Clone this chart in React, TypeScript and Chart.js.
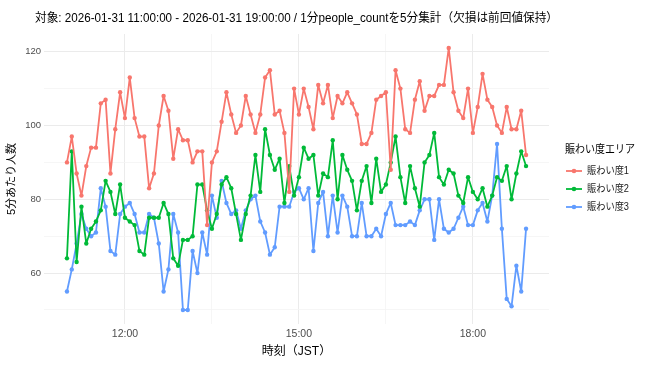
import React, { useEffect, useRef } from "react";
import { Chart, registerables } from "chart.js";

Chart.register(...registerables);

const FONT = "'Liberation Sans', 'Noto Sans CJK JP', sans-serif";

const titleText =
  "対象: 2026-01-31 11:00:00 - 2026-01-31 19:00:00 / 1分people_countを5分集計（欠損は前回値保持）";
const xAxisTitle = "時刻（JST）";
const yAxisTitle = "5分あたり人数";
const legendTitle = "賑わい度エリア";
const seriesNames = ["賑わい度1", "賑わい度2", "賑わい度3"];
const seriesColors = ["#F8766D", "#00BA38", "#619CFF"];

// minutes after 11:00, 5-minute buckets
const stepMinutes = 5;

const area1 = [
  90, 97, 87, 81, 89, 94, 94, 106, 107, 87, 99, 109, 102, 113, 102, 97,
  97, 83, 87, 100, 108, 104, 91, 99, 96, 96, 90, 93, 93, 73, 90, 93,
  101, 109, 103, 98, 100, 108, 103, 98, 103, 113, 115, 103, 104, 98, 82, 110,
  103, 110, 105, 99, 111, 106, 111, 102, 108, 106, 109, 106, 103, 95, 95, 98,
  107, 108, 109, 88, 115, 110, 99, 98, 107, 112, 104, 108, 108, 111, 111, 121,
  109, 104, 102, 110, 98, 105, 114, 107, 105, 100, 98, 105, 99, 99, 104, 92,
];
const area2 = [
  64, 93, 63, 78, 68, 72, 74, 77, 85, 82, 76, 84, 75, 74, 73, 66,
  65, 75, 75, 75, 79, 76, 64, 62, 69, 69, 70, 84, 84, 77, 72, 76,
  84, 86, 83, 76, 69, 76, 81, 92, 82, 99, 92, 88, 91, 79, 89, 81,
  86, 94, 91, 92, 81, 87, 86, 96, 80, 92, 88, 85, 77, 85, 89, 79,
  91, 82, 84, 90, 97, 86, 79, 89, 83, 78, 90, 92, 98, 86, 84, 88,
  87, 81, 79, 86, 82, 80, 83, 78, 81, 86, 85, 89, 80, 87, 93, 89,
];
const area3 = [
  55, 61, 68, 76, 72, 70, 71, 83, 78, 66, 65, 76, 78, 79, 76, 71,
  71, 76, 75, 68, 55, 61, 76, 71, 50, 50, 66, 60, 71, 65, 81, 75,
  85, 79, 76, 77, 72, 77, 80, 81, 74, 71, 65, 67, 78, 78, 78, 82,
  83, 80, 83, 66, 79, 82, 70, 81, 71, 81, 78, 70, 70, 79, 70, 70,
  72, 70, 76, 79, 73, 73, 73, 74, 73, 77, 80, 80, 69, 80, 72, 71,
  72, 75, 78, 73, 73, 77, 79, 74, 81, 95, 72, 53, 51, 62, 55, 72,
];
const seriesValues = [area1, area2, area3];

// x ticks (minutes after 11:00): majors labelled, minors unlabeled
const xTickMinutes = [60, 150, 240, 330, 420];
const xTickLabels: Record<number, string> = { 60: "12:00", 240: "15:00", 420: "18:00" };
const yTickValues = [50, 60, 70, 80, 90, 100, 110, 120];
const yTickLabels: Record<number, string> = { 60: "60", 80: "80", 100: "100", 120: "120" };

const xMin = -23.75;
const xMax = 498.75;
const yMin = 46.2;
const yMax = 124.8;

function fitText(ctx: CanvasRenderingContext2D, text: string, x: number, y: number, width: number) {
  const w = ctx.measureText(text).width;
  const sx = w > 0 ? width / w : 1;
  ctx.save();
  ctx.translate(x, y);
  ctx.scale(sx, 1);
  ctx.fillText(text, 0, 0);
  ctx.restore();
}

const overlayPlugin = {
  id: "overlay",
  afterDraw(chart: any) {
    const ctx = chart.ctx as CanvasRenderingContext2D;
    ctx.save();
    ctx.textAlign = "left";
    ctx.textBaseline = "middle";
    // title
    ctx.fillStyle = "#000000";
    ctx.font = `12px ${FONT}`;
    fitText(ctx, titleText, 35, 19, 523);

    // legend
    ctx.font = `11px ${FONT}`;
    ctx.fillStyle = "#000000";
    fitText(ctx, legendTitle, 565, 150, 70);
    const ys = [171, 189, 207];
    seriesNames.forEach((name, i) => {
      const y = ys[i];
      ctx.strokeStyle = seriesColors[i];
      ctx.lineWidth = 1.8;
      ctx.beginPath();
      ctx.moveTo(566, y);
      ctx.lineTo(582, y);
      ctx.stroke();
      ctx.fillStyle = seriesColors[i];
      ctx.beginPath();
      ctx.arc(574, y, 2.3, 0, Math.PI * 2);
      ctx.fill();
      ctx.fillStyle = "#1a1a1a";
      ctx.font = `10px ${FONT}`;
      fitText(ctx, name, 587, y, 42);
    });
    ctx.restore();
  },
};

export default function App() {
  const canvasRef = useRef<HTMLCanvasElement | null>(null);

  useEffect(() => {
    const canvas = canvasRef.current;
    if (!canvas) return;
    const datasets = seriesValues.map((vals, s) => ({
      label: seriesNames[s],
      data: vals.map((v, i) => ({ x: i * stepMinutes, y: v })),
      borderColor: seriesColors[s],
      backgroundColor: seriesColors[s],
      borderWidth: 1.8,
      borderJoinStyle: "round" as const,
      borderCapStyle: "round" as const,
      pointRadius: 2.2,
      pointBorderWidth: 0,
      pointHoverRadius: 2.2,
      tension: 0,
    }));

    const chart = new Chart(canvas, {
      type: "line",
      data: { datasets },
      plugins: [overlayPlugin],
      options: {
        responsive: false,
        animation: false,
        events: [],
        layout: { padding: { top: 34, right: 107, bottom: 0, left: 0 } },
        plugins: {
          legend: { display: false },
          title: { display: false },
          tooltip: { enabled: false },
        },
        scales: {
          x: {
            type: "linear",
            min: xMin,
            max: xMax,
            afterBuildTicks: (axis: any) => {
              axis.ticks = xTickMinutes.map((v) => ({ value: v }));
            },
            afterFit: (axis: any) => {
              axis.height = 55;
            },
            ticks: {
              autoSkip: false,
              maxRotation: 0,
              padding: 4,
              color: "#4D4D4D",
              font: { family: FONT, size: 10.5 },
              callback: (v: any) => xTickLabels[v as number] ?? "",
            },
            grid: {
              drawTicks: false,
              color: (c: any) => (xTickLabels[c.tick?.value] ? "#EBEBEB" : "#F4F4F4"),
              lineWidth: (c: any) => (xTickLabels[c.tick?.value] ? 1 : 0.8),
            },
            border: { display: false },
            title: {
              display: true,
              text: xAxisTitle,
              color: "#000000",
              font: { family: FONT, size: 12 },
              padding: { top: 0, bottom: 20 },
            },
          },
          y: {
            type: "linear",
            min: yMin,
            max: yMax,
            afterBuildTicks: (axis: any) => {
              axis.ticks = yTickValues.map((v) => ({ value: v }));
            },
            afterFit: (axis: any) => {
              axis.width = 44;
            },
            ticks: {
              autoSkip: false,
              padding: 3,
              color: "#4D4D4D",
              font: { family: FONT, size: 9.5 },
              callback: (v: any) => yTickLabels[v as number] ?? "",
            },
            grid: {
              drawTicks: false,
              color: (c: any) => (yTickLabels[c.tick?.value] ? "#EBEBEB" : "#F4F4F4"),
              lineWidth: (c: any) => (yTickLabels[c.tick?.value] ? 1 : 0.8),
            },
            border: { display: false },
            title: {
              display: true,
              text: yAxisTitle,
              color: "#000000",
              font: { family: FONT, size: 11 },
              padding: { top: 5, bottom: 0 },
            },
          },
        },
      },
    });
    return () => chart.destroy();
  }, []);

  return (
    <div style={{ position: "fixed", left: 0, top: 0, width: 656, height: 379, background: "#ffffff" }}>
      <canvas ref={canvasRef} width={656} height={379} style={{ display: "block" }} />
    </div>
  );
}
